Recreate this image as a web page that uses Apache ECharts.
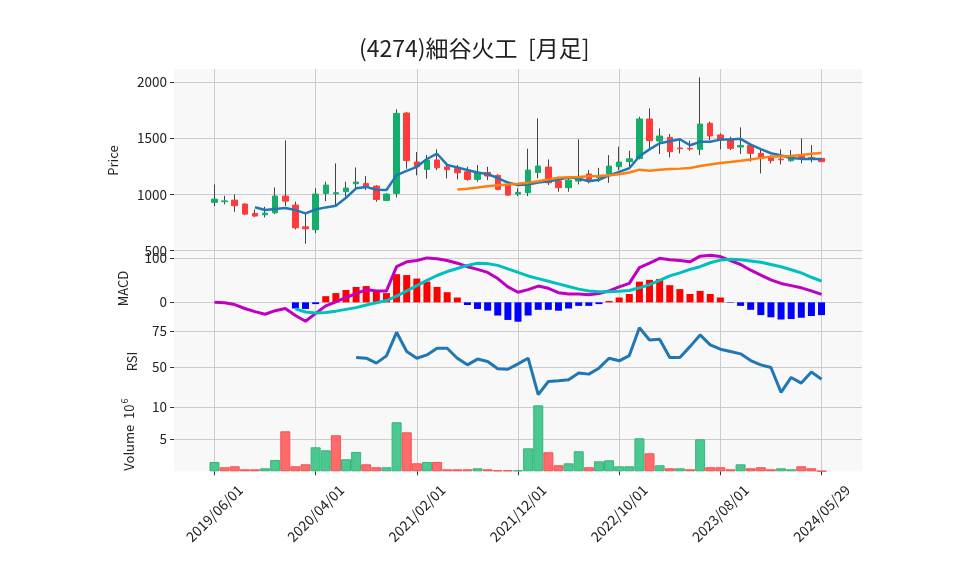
<!DOCTYPE html>
<html><head><meta charset="utf-8">
<script src="https://cdn.jsdelivr.net/npm/echarts@6/dist/echarts.min.js"></script>
<style>html,body{margin:0;padding:0;background:#fff}#c{width:958px;height:575px}</style>
</head><body><div id="c"></div>
<script>
const dates = ['2019/06/01','2019/07/01','2019/08/01','2019/09/01','2019/10/01','2019/11/01','2019/12/01','2020/01/01','2020/02/01','2020/03/01',
'2020/04/01','2020/05/01','2020/06/01','2020/07/01','2020/08/01','2020/09/01','2020/10/01','2020/11/01','2020/12/01','2021/01/01',
'2021/02/01','2021/03/01','2021/04/01','2021/05/01','2021/06/01','2021/07/01','2021/08/01','2021/09/01','2021/10/01','2021/11/01',
'2021/12/01','2022/01/01','2022/02/01','2022/03/01','2022/04/01','2022/05/01','2022/06/01','2022/07/01','2022/08/01','2022/09/01',
'2022/10/01','2022/11/01','2022/12/01','2023/01/01','2023/02/01','2023/03/01','2023/04/01','2023/05/01','2023/06/01','2023/07/01',
'2023/08/01','2023/09/01','2023/10/01','2023/11/01','2023/12/01','2024/01/01','2024/02/01','2024/03/01','2024/04/01','2024/05/01','2024/05/29'];
const tickIdx = [0,10,20,30,40,50,60];

const openP  = [929,935,949,914,830,818,836,985,905,711, 685,1009,1005,1024,1095,1098,1074,946,1009,1726, 1289,1223,1307,1244,1232,1202,1134,1196,1170,1083,
  1003,1015,1196,1244,1119,1060,1119,1182,1150,1182, 1247,1292,1321,1673,1476,1509,1414,1411,1402,1634, 1530,1485,1423,1437,1366,1327,1315,1301,1340,1330,1321];
const closeP = [958,942,899,824,807,833,985,940,702,693, 1003,1083,1015,1057,1110,1068,955,1003,1723,1301, 1247,1307,1238,1220,1193,1134,1193,1164,1045,994,
  1018,1217,1253,1104,1060,1128,1158,1134,1170,1253, 1289,1318,1673,1479,1521,1381,1408,1405,1628,1521, 1485,1411,1437,1366,1321,1301,1309,1327,1325,1320,1292];
const highP  = [1089,988,1000,920,866,890,1062,1482,935,830, 1054,1113,1277,1113,1241,1164,1083,1010,1759,1735, 1378,1351,1402,1262,1262,1247,1262,1247,1179,1083,
  1054,1408,1679,1312,1158,1164,1491,1217,1237,1351, 1426,1390,1693,1768,1589,1539,1485,1479,2045,1649, 1545,1515,1598,1455,1402,1351,1402,1396,1500,1440,1321];
const lowP   = [896,911,845,815,798,795,824,896,688,560, 655,940,900,979,1039,1039,935,940,973,1229, 1170,1140,1217,1143,1134,1122,1113,1128,1036,988,
  985,985,1143,1083,1024,1024,1089,1098,1110,1104, 1217,1247,1312,1396,1360,1330,1366,1390,1351,1485, 1402,1396,1360,1292,1187,1277,1268,1292,1277,1286,1290];

const ma5 = [null,null,null,null,886,861,870,878,860,831, 865,884,899,970,1054,1067,1041,1039,1172,1210, 1246,1316,1363,1263,1241,1218,1196,1181,1146,1106,
  1083,1088,1105,1117,1130,1152,1141,1117,1130,1169, 1201,1233,1341,1402,1456,1474,1492,1439,1469,1469, 1489,1490,1496,1444,1404,1367,1347,1325,1317,1316,1315];
const ma25 = [null,null,null,null,null,null,null,null,null,null, null,null,null,null,null,null,null,null,null,null, null,null,null,null,1044,1051,1061,1072,1081,1088,
  1096,1105,1117,1134,1148,1153,1156,1161,1165,1171, 1180,1195,1221,1212,1220,1226,1230,1236,1253,1266, 1280,1289,1300,1312,1326,1337,1341,1343,1352,1362,1370];

const macd = [0,-1,-5,-14,-21,-27,-19,-14,-30,-43, -25,-8,1,11,20,29,26,26,81,92, 95,101,99,95,89,81,75,68,54,35,
  23,29,37,32,22,19,19,17,20,26, 35,43,79,89,100,97,95,92,105,107, 104,95,86,73,62,51,43,38,33,26,18];
const signal = [null,null,null,null,null,null,null,null,-15,-22, -24,-23,-20,-16,-12,-6,-1,4,14,26, 38,50,61,70,77,84,89,88,84,76,
  68,60,54,48,42,36,30,26,24,24, 25,27,33,40,50,60,67,75,81,90, 96,98,97,94,91,86,81,74,67,57,48];
const hist = [null,null,null,null,null,null,null,null,-14,-15, -4,14,21,28,35,37,28,21,64,62, 54,47,35,23,11,-6,-15,-19,-30,-40,
  -44,-30,-17,-17,-19,-14,-8,-8,-4,3, 11,19,47,51,53,39,30,19,26,19, 11,-1,-8,-17,-29,-34,-39,-38,-35,-31,-29];
const rsi = [null,null,null,null,null,null,null,null,null,null, null,null,null,null,56.7,56.2,52.8,57.8,74.1,60.8, 56.2,58.5,63.1,63.1,56.2,51.6,55.6,53.9,48.9,48.6,
  52.3,56.2,31.0,40.1,40.6,41.3,45.9,45.2,49.3,56.2, 54.4,58.0,77.3,68.8,69.3,56.7,56.7,64.2,72.3,65.4, 62.4,60.8,59.2,54.6,51.6,49.8,32.6,42.9,39.0,46.6,41.7];
const volume = [1.46,0.63,0.78,0.31,0.31,0.47,1.77,6.25,0.78,1.09, 3.75,3.28,5.63,1.88,3.02,1.09,0.63,0.63,7.66,6.09, 1.25,1.46,1.46,0.31,0.31,0.31,0.47,0.31,0.16,0.16,
  0.16,3.59,10.3,2.97,0.94,1.25,3.13,0.63,1.56,1.72, 0.78,0.78,5.16,2.81,0.94,0.47,0.47,0.31,5.0,0.63, 0.63,0.31,1.09,0.47,0.63,0.31,0.47,0.31,0.78,0.47,0.05];

const priceTicks = [500,1000,1500,2000];
const macdTicks = [0,100];
const rsiTicks = [50,75];
const volTicks = [5,10];

const PAD = 4;
const cats = [].concat(Array(PAD).fill(''), dates, Array(PAD).fill(''));
const padArr = a => [].concat(Array(PAD).fill('-'), a.map(v => v == null ? '-' : v), Array(PAD).fill('-'));
const isTick = (i) => tickIdx.indexOf(i - PAD) >= 0;

const UP = '#14ad6a', DOWN = '#ff3b3b';
const font = '"Noto Sans CJK JP", "DejaVu Sans", sans-serif';
const gridLine = { show: true, interval: isTick, lineStyle: { color: '#cccccc', width: 1 } };

const L = 174, W = 688;
const grids = [
  { left: L, width: W, top: 69, height: 183 },
  { left: L, width: W, top: 252, height: 73 },
  { left: L, width: W, top: 325, height: 73 },
  { left: L, width: W, top: 398, height: 73.3 }
].map(g => Object.assign({ show: true, backgroundColor: '#f8f8f8', borderWidth: 0 }, g));

const xAxes = grids.map((g, i) => ({
  type: 'category', gridIndex: i, data: cats, boundaryGap: false,
  axisLine: { show: false },
  axisTick: { show: i === 3, interval: isTick, length: 4, lineStyle: { color: '#333' } },
  axisLabel: { show: i === 3, interval: isTick, rotate: 45, align: 'center', verticalAlign: 'middle', margin: 42,
    fontSize: 14, color: '#222', fontFamily: font },
  splitLine: gridLine
}));

function yAx(i, min, max, ticks, name, gap, extra) {
  return Object.assign({
    type: 'value', gridIndex: i, min: min, max: max, scale: true,
    axisLine: { show: false },
    axisTick: { show: true, length: 4, lineStyle: { color: '#333' }, customValues: ticks },
    axisLabel: { fontSize: 13.5, color: '#222', fontFamily: font, margin: 7, customValues: ticks,
      formatter: v => String(v) },
    splitLine: { show: true, lineStyle: { color: '#cccccc', width: 1 } },
    name: name, nameLocation: 'middle', nameGap: gap,
    nameTextStyle: { fontSize: 13, color: '#222', fontFamily: font }
  }, extra || {});
}

const yAxes = [
  yAx(0, 486, 2119, priceTicks, 'Price', 54),
  yAx(1, -51.5, 114.4, macdTicks, 'MACD', 44),
  yAx(2, 28.7, 79.15, rsiTicks, 'RSI', 35),
  yAx(3, 0, 11.45, volTicks, '{a|Volume}  {a|10}{s|6}', 38, {
    nameTextStyle: { fontSize: 13, color: '#222', fontFamily: font,
      rich: { a: { fontSize: 13, fontFamily: font, color: '#222', verticalAlign: 'bottom', lineHeight: 18 },
              s: { fontSize: 9, fontFamily: font, color: '#222', verticalAlign: 'bottom', lineHeight: 18, padding: [0, 0, 7, 1] } } }
  })
];

const ohlc = dates.map((d, i) => [openP[i], closeP[i], lowP[i], highP[i]]);
const body = dates.map((d, i) => [openP[i], closeP[i], Math.min(openP[i], closeP[i]), Math.max(openP[i], closeP[i])]);

const histData = hist.map(v => v == null ? '-' : { value: v, itemStyle: { color: v >= 0 ? '#ff0000' : '#0000ff' } });
const volData = volume.map((v, i) => {
  const up = i === 0 || closeP[i] >= closeP[i - 1];
  return { value: v, itemStyle: { color: up ? '#4bc790' : '#ff6b6b', borderColor: up ? '#35b57b' : '#f35050', borderWidth: 1 } };
});

const lineS = (data, color, width, xi, yi, z) => ({
  type: 'line', data: padArr(data), xAxisIndex: xi, yAxisIndex: yi, showSymbol: false, symbol: 'none',
  lineStyle: { color: color, width: width }, itemStyle: { color: color }, z: z || 5, connectNulls: false
});

const chart = echarts.init(document.getElementById('c'), null, { renderer: 'canvas' });
chart.setOption({
  animation: false,
  backgroundColor: '#ffffff',
  title: { text: '(4274)細谷火工  [月足]', left: 354, top: 32,
    textStyle: { fontSize: 23, fontWeight: 'normal', color: '#222', fontFamily: font } },
  grid: grids,
  xAxis: xAxes,
  yAxis: yAxes,
  series: [
    { type: 'candlestick', data: padArr(ohlc), xAxisIndex: 0, yAxisIndex: 0, barWidth: 1,
      itemStyle: { color: '#444', color0: '#444', borderColor: '#444', borderColor0: '#444', borderWidth: 1 }, z: 2 },
    { type: 'candlestick', data: padArr(body), xAxisIndex: 0, yAxisIndex: 0, barWidth: 6,
      itemStyle: { color: UP, color0: DOWN, borderColor: UP, borderColor0: DOWN, borderWidth: 1 }, z: 3 },
    lineS(ma5, '#1f77b4', 2.5, 0, 0),
    lineS(ma25, '#ff7f0e', 2.5, 0, 0),
    { type: 'bar', data: padArr(histData), xAxisIndex: 1, yAxisIndex: 1, barWidth: 7, z: 2 },
    lineS(macd, '#bf00bf', 3, 1, 1),
    lineS(signal, '#00bfbf', 3, 1, 1),
    lineS(rsi, '#1f77b4', 3, 2, 2),
    { type: 'bar', data: padArr(volData), xAxisIndex: 3, yAxisIndex: 3, barWidth: 10, z: 2 }
  ]
});
</script>
</body></html>
